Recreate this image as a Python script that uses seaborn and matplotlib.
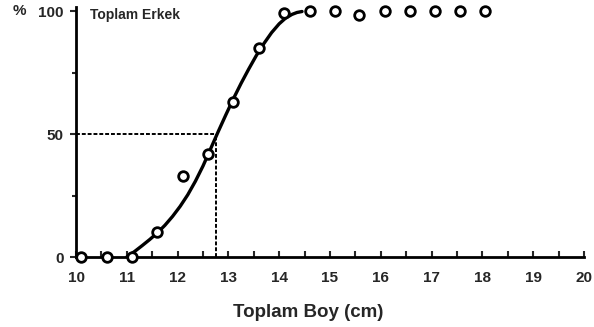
import numpy as np
import pandas as pd
import matplotlib
matplotlib.use("Agg")
import matplotlib.pyplot as plt
import seaborn as sns

boy = [10.1, 10.6, 11.1, 11.6, 12.1, 12.6, 13.1, 13.6, 14.1, 14.6,
       15.1, 15.57, 16.08, 16.57, 17.07, 17.56, 18.05]
yuzde = [0, 0, 0, 10, 33, 42, 63, 85, 99, 100,
         100, 98.5, 100, 100, 100, 100, 100]

# Fitted ogive curve
egri_boy = [11.0, 11.15, 11.3, 11.45, 11.6, 11.75, 11.9, 12.05, 12.2, 12.35,
            12.5, 12.65, 12.8, 12.95, 13.1, 13.25, 13.4, 13.55, 13.7, 13.85,
            14.0, 14.12, 14.25, 14.35, 14.45]
egri_yuzde = [0, 2.2, 4.6, 7.1, 9.8, 12.9, 16.5, 20.6, 25.3, 30.8,
              37.0, 44.0, 51.0, 57.8, 64.4, 70.6, 76.4, 81.9, 86.8, 91.2,
              94.8, 97.0, 98.6, 99.4, 99.8]

L50 = 12.75  # length at 50 %

x_ticks = list(range(10, 21))
y_ticks = [0, 50, 100]
title = "Toplam Erkek"
xlabel = "Toplam Boy (cm)"

sns.set_theme(style="ticks")
plt.rcParams['font.family'] = ['Liberation Sans', 'DejaVu Sans']

fig = plt.figure(figsize=(5.94, 3.27), dpi=100)
ax = fig.add_axes([0.128, 0.214, 0.855, 0.7636])

sns.lineplot(x=egri_boy, y=egri_yuzde, ax=ax, color="black", linewidth=2.4,
             sort=False)

df = pd.DataFrame({"boy": boy, "yuzde": yuzde})
sns.scatterplot(data=df, x="boy", y="yuzde", ax=ax, marker="o", s=48,
                facecolor="white", edgecolor="black", linewidth=2.0,
                zorder=5, clip_on=False)

ax.plot([10, L50], [50, 50], color="black", lw=1.4, ls=(0, (2, 1)))
ax.plot([L50, L50], [0, 50], color="black", lw=1.4, ls=(0, (2, 1)))

ax.set_xlim(10, 20)
ax.set_ylim(0, 101.5)
ax.set_xticks(x_ticks)
ax.set_xticklabels([str(t) for t in x_ticks], fontweight="bold", fontsize=11)
ax.set_yticks(y_ticks)
ax.set_yticklabels([str(t) for t in y_ticks], fontweight="bold", fontsize=11)
ax.set_xticks(np.arange(10.5, 20, 1.0), minor=True)
ax.set_yticks([25, 75], minor=True)
ax.tick_params(axis="x", which="both", direction="in", length=4, width=1.5, pad=10)
ax.tick_params(axis="y", which="major", direction="out", length=4, width=1.5, pad=5)
ax.tick_params(axis="y", which="minor", direction="out", length=3, width=1.5)

for s in ["top", "right"]:
    ax.spines[s].set_visible(False)
for s in ["left", "bottom"]:
    ax.spines[s].set_linewidth(2)
    ax.spines[s].set_color("black")

ax.set_xlabel(xlabel, fontweight="bold", fontsize=13.5, labelpad=14, x=0.457)
ax.set_ylabel("")
ax.text(-0.125, 100, "%", transform=ax.get_yaxis_transform(), fontweight="bold",
        fontsize=11, va="center", ha="left")
ax.text(0.028, 98.5, title, transform=ax.get_yaxis_transform(), fontweight="bold",
        fontsize=10, va="center", ha="left")

fig.savefig("out.png", dpi=100)
